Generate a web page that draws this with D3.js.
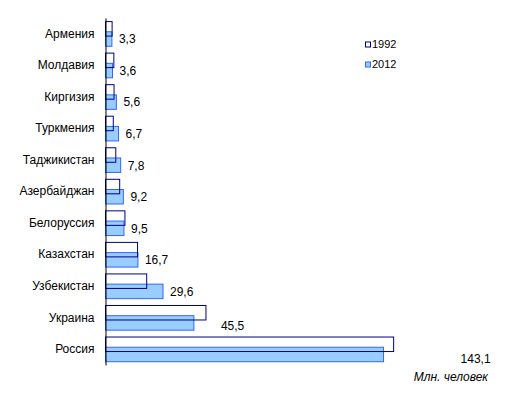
<!DOCTYPE html>
<html>
<head>
<meta charset="utf-8">
<script src="https://cdn.jsdelivr.net/npm/d3@7"></script>
<style>
  body { margin: 0; background: #fff; }
  svg { display: block; font-family: Arial, "Liberation Sans", sans-serif; }
</style>
</head>
<body>
<svg id="chart" width="514" height="397"></svg>
<script>
// данные
const countries = ["Армения", "Молдавия", "Киргизия", "Туркмения", "Таджикистан",
  "Азербайджан", "Белоруссия", "Казахстан", "Узбекистан", "Украина", "Россия"];
const pop1992 = [3.4, 4.3, 4.4, 4.0, 5.3, 7.3, 10.0, 16.5, 21.2, 51.7, 148.3];
const pop2012 = [3.3, 3.6, 5.6, 6.7, 7.8, 9.2, 9.5, 16.7, 29.6, 45.5, 143.1];
const years = ["1992", "2012"];
const unitLabel = "Млн. человек";

// ручной сдвиг подписей (как в исходной диаграмме)
const labelShift = { "Украина": [20, 2.5], "Россия": [70, 4.5] };

const svg = d3.select("#chart");
const axisX = 105.5;

const y = d3.scaleBand()
  .domain(countries)
  .range([18, 365]);

const x = d3.scaleLinear()
  .domain([0, 160])
  .range([axisX, axisX + 1.943 * 160]);

const band = y.bandwidth();
const barH = 14.5;
const off1992 = band / 2 - 12.2;
const off2012 = band / 2 - 2;

// 2012 - голубые столбцы
svg.append("g").selectAll("rect")
  .data(countries)
  .join("rect")
  .attr("x", axisX)
  .attr("y", d => y(d) + off2012)
  .attr("width", (d, i) => x(pop2012[i]) - axisX)
  .attr("height", barH)
  .attr("fill", "#99ccff")
  .attr("stroke", "#3366ff")
  .attr("stroke-width", 1);

// 1992 - контур поверх
svg.append("g").selectAll("rect")
  .data(countries)
  .join("rect")
  .attr("x", axisX)
  .attr("y", d => y(d) + off1992)
  .attr("width", (d, i) => x(pop1992[i]) - axisX)
  .attr("height", barH)
  .attr("fill", "none")
  .attr("stroke", "#000080")
  .attr("stroke-width", 1);

// ось категорий
const yAxis = svg.append("g")
  .attr("transform", `translate(${axisX},0)`)
  .call(d3.axisLeft(y).tickSize(0).tickPadding(11));
yAxis.select(".domain").attr("stroke", "#000");
yAxis.selectAll("text")
  .attr("font-size", 12)
  .attr("font-family", "Arial, 'Liberation Sans', sans-serif")
  .attr("fill", "#000");

// подписи значений 2012
svg.append("g").selectAll("text")
  .data(countries)
  .join("text")
  .attr("x", (d, i) => x(pop2012[i]) + 7 + (labelShift[d] ? labelShift[d][0] : 0))
  .attr("y", d => y(d) + off2012 + barH / 2 + (labelShift[d] ? labelShift[d][1] : 0))
  .attr("dy", "0.36em")
  .attr("font-size", 12)
  .attr("fill", "#000")
  .text((d, i) => d3.format(".1f")(pop2012[i]).replace(".", ","));

// легенда
const legend = svg.append("g").attr("transform", "translate(365,44.5)");
const legendStyle = [
  { fill: "#fff", stroke: "#000080" },
  { fill: "#99ccff", stroke: "#3366ff" }
];
years.forEach((yr, i) => {
  const g = legend.append("g").attr("transform", `translate(0,${i * 20})`);
  g.append("rect")
    .attr("x", 0.5).attr("y", -2.5)
    .attr("width", 5).attr("height", 5)
    .attr("fill", legendStyle[i].fill)
    .attr("stroke", legendStyle[i].stroke);
  g.append("text")
    .attr("x", 7)
    .attr("dy", "0.36em")
    .attr("font-size", 11)
    .attr("fill", "#000")
    .text(yr);
});

// единицы измерения
svg.append("text")
  .attr("x", 488)
  .attr("y", 381)
  .attr("text-anchor", "end")
  .attr("font-size", 12)
  .attr("font-style", "italic")
  .attr("fill", "#000")
  .text(unitLabel);
</script>
</body>
</html>
